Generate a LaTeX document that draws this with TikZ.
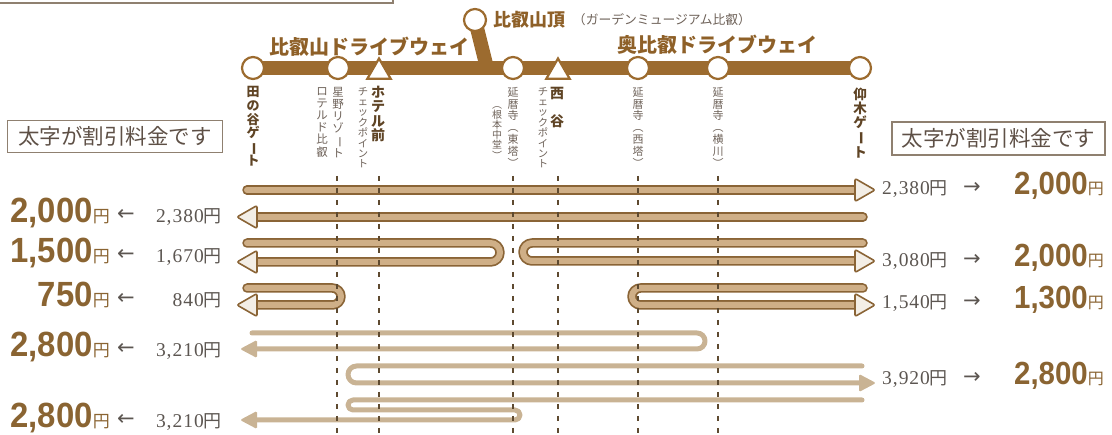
\documentclass[tikz,border=0pt]{standalone}
\usepackage{fontspec}
\usepackage{graphicx}
\usetikzlibrary{shapes.geometric,calc}
\newfontfamily\cjk{Noto Sans CJK JP}
\newfontfamily\numf{Liberation Sans}
\newfontfamily\serf{Liberation Serif}[LetterSpace=5]
\newfontfamily\dvs{DejaVu Sans}
\definecolor{routec}{HTML}{9C6B2F}
\definecolor{namec}{HTML}{8E6028}
\definecolor{numc}{HTML}{8A6432}
\definecolor{grayt}{HTML}{5C5651}
\definecolor{boxt}{HTML}{5E5046}
\definecolor{boxl}{HTML}{8F8070}
\definecolor{tubeedge}{HTML}{8A6436}
\definecolor{tubefill}{HTML}{CFAF87}
\definecolor{headfill}{HTML}{F3EEE6}
\definecolor{lightc}{HTML}{C9B394}
\definecolor{dashc}{HTML}{5E4A30}
\definecolor{vboldc}{HTML}{5F4425}
\definecolor{vsmallc}{HTML}{6E6259}
\newcommand\vbar{\rotatebox[origin=c]{-90}{ー}}
\newcommand\bigyenL[1]{{\scalebox{0.94}[1]{\numf\bfseries\fontsize{35}{35}\selectfont #1}}{\cjk\fontsize{17}{17}\selectfont 円}}
\newcommand\bigyenR[1]{{\scalebox{0.92}[1]{\numf\bfseries\fontsize{32}{32}\selectfont #1}}{\cjk\fontsize{16}{16}\selectfont 円}}
\newcommand\smallyen[1]{{\serf\fontsize{19.5}{19.5}\selectfont #1}{\cjk\fontsize{18}{18}\selectfont 円}}
\newcommand\ohL[1]{\filldraw[ohead] ($(#1)+(20,-11.5)$) -- (#1) -- ($(#1)+(20,11.5)$) -- cycle;}
\newcommand\ohR[1]{\filldraw[ohead] ($(#1)+(-20,-11.5)$) -- (#1) -- ($(#1)+(-20,11.5)$) -- cycle;}
\newcommand\lhL[1]{\fill[lhead] ($(#1)+(17,-9)$) -- (#1) -- ($(#1)+(17,9)$) -- cycle;}
\newcommand\lhR[1]{\fill[lhead] ($(#1)+(-17,-9)$) -- (#1) -- ($(#1)+(-17,9)$) -- cycle;}
\begin{document}
\begin{tikzpicture}[x=1pt,y=-1pt,
  stn/.style={circle, draw=routec, fill=white, line width=2.2pt, minimum size=22pt, inner sep=0pt},
  trist/.style={regular polygon, regular polygon sides=3, draw=routec, fill=white, line width=2.2pt, minimum size=27pt, inner sep=0pt},
  route/.style={draw=routec, line width=14pt},
  rname/.style={font=\cjk\bfseries\fontsize{20}{20}\selectfont, text=namec, inner sep=0pt},
  vb/.style={font=\cjk\bfseries\fontsize{13}{13.8}\selectfont, text=vboldc, align=center, inner sep=0pt, anchor=north},
  vs/.style={font=\cjk\fontsize{11}{11.8}\selectfont, text=vsmallc, align=center, inner sep=0pt, anchor=north},
  notebox/.style={draw=boxl, line width=1.2pt, text=boxt, font=\cjk\fontsize{21.5}{21.5}\selectfont, minimum height=32pt, inner sep=0pt},
  tube/.style={draw=tubefill, line width=6pt, line cap=round, line join=round, preaction={draw=tubeedge, line width=9.5pt, line cap=round, line join=round}},
  ohead/.style={fill=headfill, draw=tubeedge, line width=1.6pt, rounded corners=2pt},
  light/.style={draw=lightc, line width=5pt, line cap=round, line join=round},
  lhead/.style={fill=lightc, rounded corners=1.5pt},
  dashline/.style={draw=dashc, line width=1.3pt, dash pattern=on 5pt off 7pt},
  arr/.style={font=\dvs\fontsize{21}{21}\selectfont, text=grayt, inner sep=0pt},
  num/.style={text=numc, inner sep=0pt},
  sml/.style={text=grayt, inner sep=0pt}]
\useasboundingbox (0,0) rectangle (1112,435);
% partial top-left box
\draw[boxl, line width=1.2pt] (-5,-20) rectangle (393,3);
% route coordinates
\coordinate (cT) at (253,68);
\coordinate (cH) at (338,68);
\coordinate (cE) at (513,68);
\coordinate (cS) at (638,68);
\coordinate (cY) at (718,68);
\coordinate (cO) at (860,68);
\coordinate (cP) at (475,20);
\coordinate (junc) at (487,68);
\draw[route] (cT) -- (cO);
\draw[route] (cP) -- (junc);
\node[stn] (tanotani) at (cT) {};
\node[stn] (hoshino) at (cH) {};
\node[trist] (hotel) at (379,72) {};
\node[stn] (toto) at (cE) {};
\node[trist] (nishidani) at (558,72) {};
\node[stn] (saito) at (cS) {};
\node[stn] (yokawa) at (cY) {};
\node[stn] (ogi) at (cO) {};
\node[stn] (sancho) at (cP) {};
% route names
\node[rname] (nm1) at (369,47) {比叡山ドライブウェイ};
\node[rname] (nm2) at (717,45) {奥比叡ドライブウェイ};
\node[rname, font=\cjk\bfseries\fontsize{18}{18}\selectfont] (nm3) at (529,20) {比叡山頂};
\node[text=vsmallc, font=\cjk\fontsize{12.8}{12.8}\selectfont, inner sep=0pt] (nm4) at (662,20) {（ガーデンミュージアム比叡）};
% vertical station labels
\node[vb] (v1) at (253,86) {田\\の\\谷\\ゲ\\\vbar\\ト};
\node[vs, font=\cjk\fontsize{11.5}{12.2}\selectfont] (v2a) at (338,87) {星\\野\\リ\\ゾ\\\vbar\\ト};
\node[vs, font=\cjk\fontsize{11.5}{12.2}\selectfont] (v2b) at (322,87) {ロ\\テ\\ル\\ド\\比\\叡};
\node[vb, font=\cjk\bfseries\fontsize{14}{14.3}\selectfont] (v3a) at (378,86) {ホ\\テ\\ル\\前};
\node[vs, font=\cjk\fontsize{10.3}{10.4}\selectfont] (v3b) at (363,87) {チ\\ェ\\ッ\\ク\\ポ\\イ\\ン\\ト};
\node[vs] (v4a) at (513,87) {延\\暦\\寺\\︵\\東\\塔\\︶};
\node[vs, font=\cjk\fontsize{10}{10.2}\selectfont] (v4b) at (497,106) {︵\\根\\本\\中\\堂\\︶};
\node[vb, font=\cjk\bfseries\fontsize{14}{28}\selectfont] (v5a) at (557,87) {西\\谷};
\node[vs, font=\cjk\fontsize{10.3}{10.4}\selectfont] (v5b) at (543,87) {チ\\ェ\\ッ\\ク\\ポ\\イ\\ン\\ト};
\node[vs] (v6) at (638,87) {延\\暦\\寺\\︵\\西\\塔\\︶};
\node[vs] (v7) at (718,87) {延\\暦\\寺\\︵\\横\\川\\︶};
\node[vb, font=\cjk\bfseries\fontsize{13.5}{14}\selectfont] (v8) at (860,88) {仰\\木\\ゲ\\\vbar\\ト};
% note boxes
\node[notebox, minimum width=215pt] (boxL) at (115,136.5) {太字が割引料金です};
\node[notebox, minimum width=213pt, minimum height=33pt] (boxR) at (998.5,138.5) {太字が割引料金です};
% outlined route arrows
\coordinate (r1a) at (247,190); \coordinate (r1b) at (855,190); \coordinate (r1t) at (875,190);
\draw[tube] (r1a) -- (r1b); \ohR{r1t}
\coordinate (r2a) at (863,217); \coordinate (r2b) at (257,217); \coordinate (r2t) at (237,217);
\draw[tube] (r2a) -- (r2b); \ohL{r2t}
\coordinate (r3a) at (247,243); \coordinate (r3u1) at (500,243); \coordinate (r3u2) at (500,262);
\coordinate (r3b) at (257,262); \coordinate (r3t) at (237,262);
\draw[tube, rounded corners=9.5pt] (r3a) -- (r3u1) -- (r3u2) -- (r3b); \ohL{r3t}
\coordinate (r4a) at (863,243); \coordinate (r4u1) at (523,243); \coordinate (r4u2) at (523,261);
\coordinate (r4b) at (855,261); \coordinate (r4t) at (875,261);
\draw[tube, rounded corners=9pt] (r4a) -- (r4u1) -- (r4u2) -- (r4b); \ohR{r4t}
\coordinate (r5a) at (247,288); \coordinate (r5u1) at (341,288); \coordinate (r5u2) at (341,305);
\coordinate (r5b) at (257,305); \coordinate (r5t) at (237,305);
\draw[tube, rounded corners=8.5pt] (r5a) -- (r5u1) -- (r5u2) -- (r5b); \ohL{r5t}
\coordinate (r6a) at (863,288); \coordinate (r6u1) at (632,288); \coordinate (r6u2) at (632,305);
\coordinate (r6b) at (855,305); \coordinate (r6t) at (875,305);
\draw[tube, rounded corners=8.5pt] (r6a) -- (r6u1) -- (r6u2) -- (r6b); \ohR{r6t}
% light route arrows
\coordinate (l1a) at (252,333); \coordinate (l1u1) at (705,333); \coordinate (l1u2) at (705,349);
\coordinate (l1b) at (256,349); \coordinate (l1t) at (240,349);
\draw[light, rounded corners=8pt] (l1a) -- (l1u1) -- (l1u2) -- (l1b); \lhL{l1t}
\coordinate (l2a) at (862,366); \coordinate (l2u1) at (348,366); \coordinate (l2u2) at (348,383);
\coordinate (l2b) at (859,383); \coordinate (l2t) at (876,383);
\draw[light, rounded corners=8.5pt] (l2a) -- (l2u1) -- (l2u2) -- (l2b); \lhR{l2t}
\coordinate (l3a) at (862,400); \coordinate (l3u1) at (348,400); \coordinate (l3u2) at (348,410);
\coordinate (l3u3) at (520,410); \coordinate (l3u4) at (520,420);
\coordinate (l3b) at (256,420); \coordinate (l3t) at (240,420);
\draw[light, rounded corners=5pt] (l3a) -- (l3u1) -- (l3u2) -- (l3u3) -- (l3u4) -- (l3b); \lhL{l3t}
% dashed guide lines
\foreach \x/\n in {337/a,379/b,513/c,558/d,638/e,718/f}{
  \coordinate (dt\n) at (\x,176); \coordinate (db\n) at (\x,440);
  \draw[dashline] (dt\n) -- (db\n);
}
% left price labels
\node[num, anchor=base east] (lb1) at (110,223) {\bigyenL{2,000}};
\node[arr] (la1) at (126,215) {←};
\node[sml, anchor=base east] (ls1) at (222,223) {\smallyen{2,380}};
\node[num, anchor=base east] (lb2) at (110,263) {\bigyenL{1,500}};
\node[arr] (la2) at (126,255) {←};
\node[sml, anchor=base east] (ls2) at (222,263) {\smallyen{1,670}};
\node[num, anchor=base east] (lb3) at (110,307) {\bigyenL{750}};
\node[arr] (la3) at (126,299) {←};
\node[sml, anchor=base east] (ls3) at (222,307) {\smallyen{840}};
\node[num, anchor=base east] (lb4) at (110,357) {\bigyenL{2,800}};
\node[arr] (la4) at (126,349) {←};
\node[sml, anchor=base east] (ls4) at (222,357) {\smallyen{3,210}};
\node[num, anchor=base east] (lb5) at (110,428) {\bigyenL{2,800}};
\node[arr] (la5) at (126,420) {←};
\node[sml, anchor=base east] (ls5) at (222,428) {\smallyen{3,210}};
% right price labels
\node[sml, anchor=base west] (rs1) at (882,195) {\smallyen{2,380}};
\node[arr] (ra1) at (972,188) {→};
\node[num, anchor=base east] (rb1) at (1104,195) {\bigyenR{2,000}};
\node[sml, anchor=base west] (rs2) at (882,267) {\smallyen{3,080}};
\node[arr] (ra2) at (972,260) {→};
\node[num, anchor=base east] (rb2) at (1104,267) {\bigyenR{2,000}};
\node[sml, anchor=base west] (rs3) at (882,309) {\smallyen{1,540}};
\node[arr] (ra3) at (972,302) {→};
\node[num, anchor=base east] (rb3) at (1104,309) {\bigyenR{1,300}};
\node[sml, anchor=base west] (rs4) at (882,385) {\smallyen{3,920}};
\node[arr] (ra4) at (972,378) {→};
\node[num, anchor=base east] (rb4) at (1104,385) {\bigyenR{2,800}};
\end{tikzpicture}
\end{document}
